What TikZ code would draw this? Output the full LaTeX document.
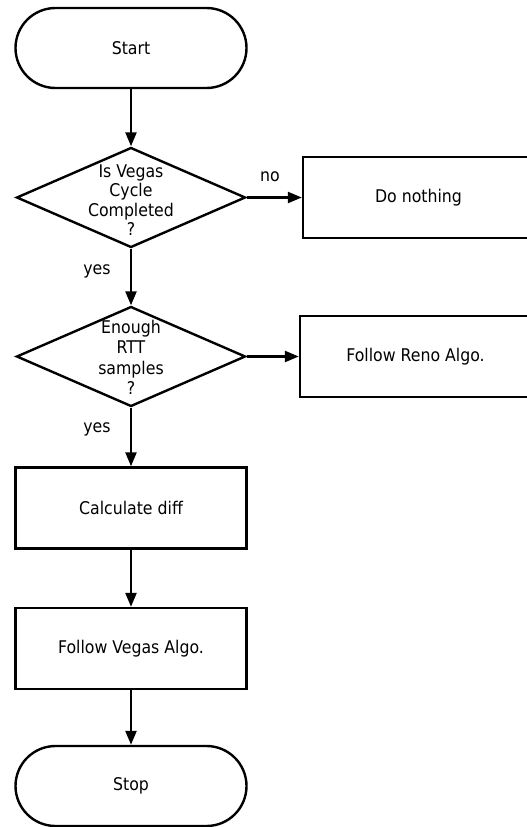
\documentclass[tikz,border=0pt]{standalone}
\usepackage{fontspec}
\setmainfont{DejaVu Sans Condensed}
\usetikzlibrary{shapes.geometric,arrows.meta}

\tikzset{
  txt/.style={font=\fontsize{17.5}{19.5}\selectfont},
  base/.style={draw=black, line width=2.4pt, txt, inner sep=0pt},
  term/.style={base, rectangle, rounded corners=40pt, minimum width=231pt, minimum height=80pt},
  proc/.style={base, rectangle, minimum width=231pt, minimum height=81pt},
  dec/.style={base, diamond, minimum width=229pt, minimum height=100pt},
  dectext/.style={align=center, txt, inner sep=0pt},
  lbl/.style={txt, inner sep=0pt},
  arr/.style={line width=2.4pt, -{Triangle[length=14pt,width=11pt]}}
}

\begin{document}
\begin{tikzpicture}[x=1pt,y=-1pt]
\useasboundingbox (0,0) rectangle (527,827);
\clip (0,0) rectangle (527,827);

% main column
\node[term] (start) at (131,48) {Start};
\node[dec] (d1) at (131,197.5) {};
\node[dectext] (d1t) at (131,200) {Is Vegas\\Cycle\\Completed\\?};
\node[proc] (nothing) at (418.5,197.5) {Do nothing};

\node[dec] (d2) at (131,356.5) {};
\node[dectext, font=\fontsize{17.5}{20.5}\selectfont] (d2t) at (131,357.5) {Enough\\RTT\\samples\\?};
\node[proc] (reno) at (415.5,356.5) {Follow Reno Algo.};

\node[proc] (calc) at (131,508) {Calculate diff};
\node[proc] (vegas) at (131,648.5) {Follow Vegas Algo.};
\node[term] (stop) at (131,786) {Stop};

% branch labels
\node[lbl] (no1) at (270,177) {no};
\node[lbl] (yes1) at (97,271) {yes};
\node[lbl] (yes2) at (97,429) {yes};

% connectors
\draw[arr] (start.south) -- (d1.north);
\draw[arr] (d1.east) -- (nothing.west);
\draw[arr] (d1.south) -- (d2.north);
\draw[arr] (d2.east) -- (reno.west);
\draw[arr] (d2.south) -- (calc.north);
\draw[arr] (calc.south) -- (vegas.north);
\draw[arr] (vegas.south) -- (stop.north);
\end{tikzpicture}
\end{document}
